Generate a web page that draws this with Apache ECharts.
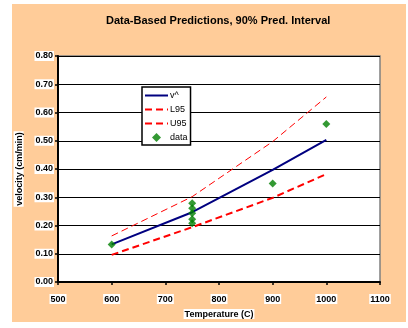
<!DOCTYPE html>
<html>
<head>
<meta charset="utf-8">
<script src="https://cdn.jsdelivr.net/npm/echarts@6/dist/echarts.min.js"></script>
<style>
  body { margin: 0; background: #fff; }
  #bg { position: absolute; left: 12px; top: 4px; width: 394px; height: 318px; background: #FFCC99; }
  #chart { position: absolute; left: 0; top: 0; width: 408px; height: 328px; }
</style>
</head>
<body>
<div id="bg"></div>
<div id="chart"></div>
<script>
// fitted curve and 90% prediction band
var temps = [600, 750, 900, 1000];
var vHat = [0.133, 0.247, 0.397, 0.503];
var l95 = [0.096, 0.194, 0.298, 0.382];
var u95 = [0.163, 0.302, 0.497, 0.655];

// observations
var dataTemps = [600, 750, 750, 750, 750, 750, 900, 1000];
var dataVel = [0.133, 0.279, 0.261, 0.243, 0.222, 0.208, 0.349, 0.559];

var yTicks = ['0.00', '0.10', '0.20', '0.30', '0.40', '0.50', '0.60', '0.70', '0.80'];

function pairs(xs, ys) {
  return xs.map(function (x, i) { return [x, ys[i]]; });
}

var myChart = echarts.init(document.getElementById('chart'));
var font = 'Liberation Sans, Arial, sans-serif';

var option = {
  animation: false,
  textStyle: { fontFamily: font },
  title: {
    text: 'Data-Based Predictions, 90% Pred. Interval',
    left: 106,
    top: 15,
    padding: 0,
    textStyle: {
      fontSize: 11,
      fontWeight: 'bold',
      color: '#000',
      backgroundColor: '#fff',
      padding: [2, 1, 1, 1]
    }
  },
  grid: {
    left: 58,
    right: 28,
    top: 56,
    bottom: 46,
    show: true,
    backgroundColor: '#fff',
    borderColor: '#808080',
    borderWidth: 1.5
  },
  legend: {
    orient: 'vertical',
    left: 142,
    top: 87,
    padding: [4, 3, 3, 2],
    itemGap: 5,
    itemWidth: 23,
    itemHeight: 9,
    symbolKeepAspect: true,
    backgroundColor: '#fff',
    borderColor: '#000',
    borderWidth: 1.5,
    borderRadius: 0,
    textStyle: { fontSize: 9, color: '#000', padding: [0, 0, 0, -3] },
    data: [
      { name: 'v^', itemStyle: { opacity: 0 } },
      { name: 'L95', itemStyle: { opacity: 0 } },
      { name: 'U95', itemStyle: { opacity: 0 } },
      { name: 'data', icon: 'path://M5,0 L10,5 L5,10 L0,5 Z' }
    ]
  },
  xAxis: {
    type: 'value',
    min: 500,
    max: 1100,
    interval: 100,
    name: 'Temperature (C)',
    nameLocation: 'middle',
    nameGap: 27,
    nameTextStyle: {
      fontSize: 9,
      fontWeight: 'bold',
      color: '#000',
      backgroundColor: '#fff',
      padding: [1, 1, 0, 1]
    },
    axisLine: { show: true, lineStyle: { color: '#000', width: 2 } },
    axisTick: { show: true, length: 3, lineStyle: { color: '#000', width: 1.5 } },
    axisLabel: {
      margin: 12,
      fontSize: 9,
      fontWeight: 'bold',
      color: '#000',
      backgroundColor: '#fff',
      padding: [1, 1, 0, 1],
      formatter: function (v) { return String(v); }
    },
    splitLine: { show: false }
  },
  yAxis: {
    type: 'value',
    min: 0,
    max: 0.8,
    interval: 0.1,
    name: 'velocity (cm/min)',
    nameLocation: 'middle',
    nameGap: 25,
    nameTextStyle: {
      fontSize: 9,
      fontWeight: 'bold',
      color: '#000',
      backgroundColor: '#fff',
      padding: [1, 1, 0, 1]
    },
    axisLine: { show: true, lineStyle: { color: '#000', width: 2 } },
    axisTick: { show: true, length: 3, lineStyle: { color: '#000', width: 1.5 } },
    axisLabel: {
      margin: 4,
      fontSize: 9,
      fontWeight: 'bold',
      color: '#000',
      backgroundColor: '#fff',
      padding: [1, 1, 0, 1],
      formatter: function (v) {
        return yTicks[Math.round(v * 10)];
      }
    },
    splitLine: { show: true, lineStyle: { color: '#000', width: 1.2 } }
  },
  series: [
    {
      name: 'v^',
      type: 'line',
      data: pairs(temps, vHat),
      symbol: 'none',
      lineStyle: { color: '#000080', width: 2 },
      itemStyle: { color: '#000080' }
    },
    {
      name: 'L95',
      type: 'line',
      data: pairs(temps, l95),
      symbol: 'none',
      lineStyle: { color: '#FF0000', width: 2, type: [7, 4] },
      itemStyle: { color: '#FF0000' }
    },
    {
      name: 'U95',
      type: 'line',
      data: pairs(temps, u95),
      symbol: 'none',
      lineStyle: { color: '#FF0000', width: 1, type: [7, 4] },
      itemStyle: { color: '#FF0000' }
    },
    {
      name: 'data',
      type: 'scatter',
      data: pairs(dataTemps, dataVel),
      symbol: 'diamond',
      symbolSize: 8,
      itemStyle: { color: '#008000' },
      z: 5
    }
  ]
};

myChart.setOption(option);
</script>
</body>
</html>
